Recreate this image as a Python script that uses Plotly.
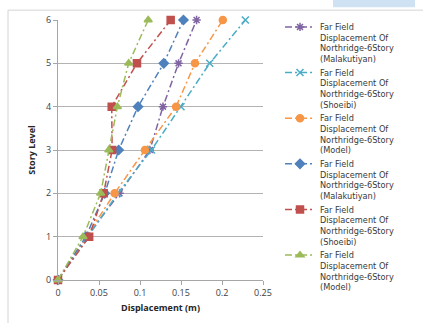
import plotly.graph_objects as go

levels = [0, 1, 2, 3, 4, 5, 6]

names = [
    "Far Field<br>Displacement Of<br>Northridge-6Story<br>(Malakutiyan)",
    "Far Field<br>Displacement Of<br>Northridge-6Story<br>(Shoeibi)",
    "Far Field<br>Displacement Of<br>Northridge-6Story<br>(Model)",
    "Far Field<br>Displacement Of<br>Northridge-6Story<br>(Malakutiyan)",
    "Far Field<br>Displacement Of<br>Northridge-6Story<br>(Shoeibi)",
    "Far Field<br>Displacement Of<br>Northridge-6Story<br>(Model)",
]

disp_malakutiyan_a = [0, 0.035, 0.075, 0.112, 0.128, 0.147, 0.169]
disp_shoeibi_a = [0, 0.036, 0.073, 0.114, 0.150, 0.185, 0.2285]
disp_model_a = [0, 0.035, 0.069, 0.106, 0.144, 0.167, 0.201]
disp_malakutiyan_b = [0, 0.034, 0.057, 0.074, 0.0976, 0.129, 0.153]
disp_shoeibi_b = [0, 0.038, 0.0557, 0.066, 0.0655, 0.0963, 0.1374]
disp_model_b = [0, 0.0305, 0.052, 0.062, 0.0724, 0.0862, 0.110]

series = [disp_malakutiyan_a, disp_shoeibi_a, disp_model_a,
          disp_malakutiyan_b, disp_shoeibi_b, disp_model_b]
colors = ["#8064A2", "#4BACC6", "#F79646", "#4F81BD", "#C0504D", "#9BBB59"]
symbols = ["asterisk-open", "x-thin-open", "circle", "diamond", "square", "triangle-up"]
sizes = [7, 7, 7, 7, 7, 7]

fig = go.Figure()
for xs, nm, c, s, sz in zip(series, names, colors, symbols, sizes):
    fig.add_trace(go.Scatter(
        x=xs, y=levels, name=nm, mode="lines+markers",
        line=dict(color=c, width=1.5, dash="7px,3px,2px,3px"),
        marker=dict(color=c, symbol=s, size=sz, line=dict(color=c, width=1.5)),
        cliponaxis=False,
    ))

W, H = 423, 323
L, R, T, B = 58, 263, 20, 284
pw, ph = R - L, B - T

def px(x):
    return (x - L) / pw

def py(y):
    return (B - y) / ph

shapes = [
    dict(type="line", xref="paper", yref="paper", x0=px(8), x1=px(8), y0=py(330), y1=py(10),
         line=dict(color="#d4d4d4", width=1)),
    dict(type="line", xref="paper", yref="paper", x0=px(8), x1=px(430), y0=py(10), y1=py(10),
         line=dict(color="#d4d4d4", width=1)),
    dict(type="rect", xref="paper", yref="paper", x0=px(333), x1=px(415), y0=py(7), y1=py(-2),
         line=dict(width=0), fillcolor="#cfe2f3"),
]

fig.update_layout(
    width=W, height=H,
    margin=dict(l=L, r=W - R, t=T, b=H - B),
    paper_bgcolor="white", plot_bgcolor="white",
    font=dict(family="Open Sans", size=9, color="#404040"),
    showlegend=True,
    legend=dict(x=px(280), y=py(15), xanchor="left", yanchor="top",
                valign="top", font=dict(family="DejaVu Sans", size=8.2, color="#3a3a3a"),
                bgcolor="rgba(0,0,0,0)", itemwidth=30, tracegroupgap=0,
                maxheight=400),
    shapes=shapes,
    xaxis=dict(range=[0, 0.25], tickvals=[0, 0.05, 0.1, 0.15, 0.2, 0.25],
               ticktext=["0", "0.05", "0.1", "0.15", "0.2", "0.25"],
               showgrid=False, zeroline=False, showline=True, linecolor="#a6a6a6",
               ticks="outside", ticklen=4, tickcolor="#a6a6a6",
               tickfont=dict(size=9, color="#404040"),
               title=dict(text="<b>Displacement (m)</b>", font=dict(size=9, color="#262626"), standoff=6)),
    yaxis=dict(range=[0, 6], tickvals=levels, showgrid=True, gridcolor="#b3b3b3",
               zeroline=False, showline=True, linecolor="#a6a6a6",
               ticks="outside", ticklen=4, tickcolor="#a6a6a6",
               tickfont=dict(size=9, color="#404040"),
               title=dict(text="<b>Story Level</b>", font=dict(size=9, color="#262626"), standoff=8)),
)

fig.write_html("out.html")
